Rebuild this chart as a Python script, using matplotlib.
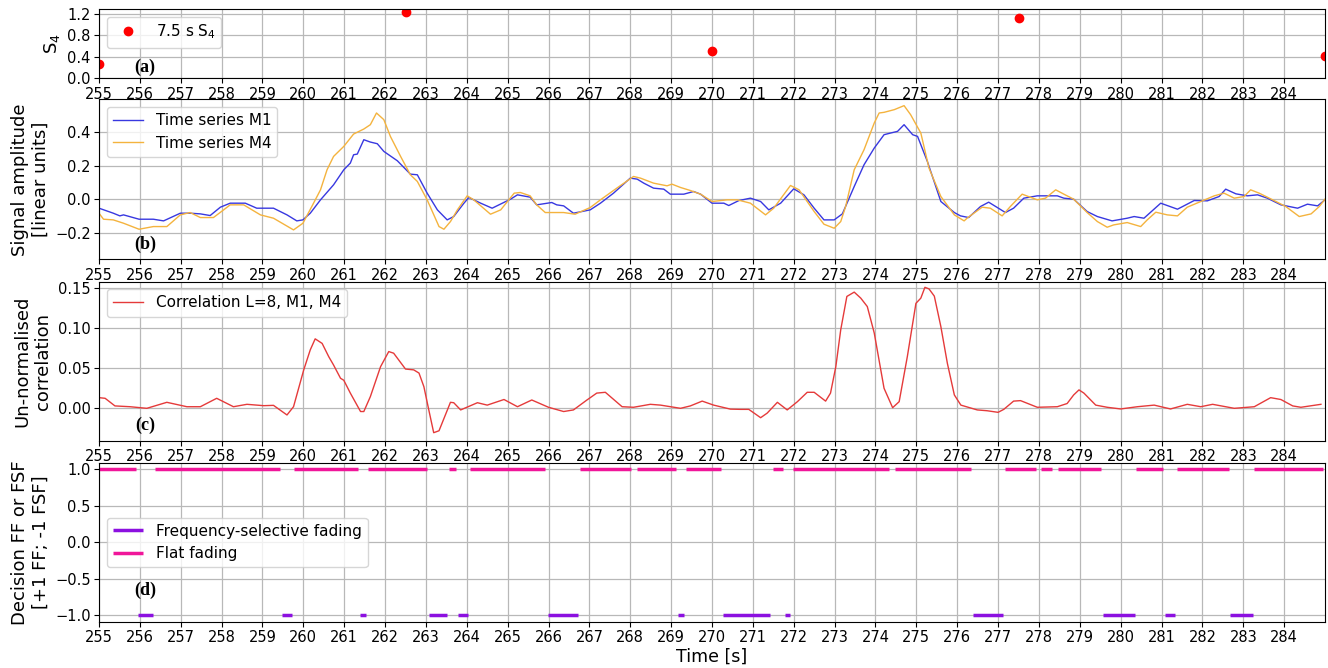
import numpy as np
import matplotlib
matplotlib.use("Agg")
import matplotlib.pyplot as plt

# ---------------- data ----------------
s4_time = [255.0, 262.5, 270.0, 277.5, 285.0]
s4_val = [0.26, 1.23, 0.51, 1.125, 0.42]

m1_time = [255.00, 255.35, 255.51, 255.60, 255.98, 256.33, 256.58, 256.99, 257.23, 257.48,
           257.72, 257.97, 258.21, 258.58, 258.86, 259.27, 259.60, 259.84, 259.99, 260.17,
           260.42, 260.74, 260.99, 261.15, 261.23, 261.32, 261.48, 261.64, 261.81, 261.97,
           262.30, 262.62, 262.79, 263.03, 263.28, 263.52, 263.68, 263.93, 264.05, 264.34,
           264.62, 265.07, 265.24, 265.55, 265.71, 266.08, 266.20, 266.37, 266.61, 267.02,
           267.27, 267.59, 268.00, 268.17, 268.33, 268.57, 268.82, 268.98, 269.31, 269.55,
           269.72, 270.00, 270.29, 270.41, 270.66, 270.94, 271.19, 271.39, 271.68, 272.00,
           272.25, 272.50, 272.74, 272.99, 273.19, 273.48, 273.72, 273.97, 274.21, 274.37,
           274.54, 274.70, 274.91, 275.03, 275.27, 275.60, 275.93, 276.08, 276.28, 276.57,
           276.77, 277.18, 277.38, 277.63, 277.96, 278.45, 278.61, 278.85, 279.18, 279.43,
           279.79, 280.16, 280.33, 280.57, 280.98, 281.39, 281.80, 282.12, 282.41, 282.57,
           282.82, 283.10, 283.35, 283.59, 283.92, 284.33, 284.57, 284.82, 285.00]
m1_val = [-0.054, -0.084, -0.100, -0.094, -0.120, -0.120, -0.130, -0.084, -0.084, -0.088,
          -0.098, -0.048, -0.024, -0.024, -0.054, -0.054, -0.094, -0.130, -0.124, -0.084,
          -0.004, 0.086, 0.176, 0.216, 0.266, 0.270, 0.356, 0.342, 0.332, 0.286,
          0.230, 0.150, 0.146, 0.036, -0.064, -0.124, -0.104, -0.024, 0.010, -0.024,
          -0.054, 0.000, 0.026, 0.012, -0.034, -0.020, -0.034, -0.040, -0.084, -0.064,
          -0.024, 0.036, 0.126, 0.120, 0.096, 0.066, 0.060, 0.030, 0.030, 0.046,
          0.030, -0.024, -0.024, -0.038, -0.008, 0.006, -0.014, -0.064, -0.024, 0.062,
          0.026, -0.054, -0.124, -0.124, -0.088, 0.076, 0.206, 0.306, 0.386, 0.396,
          0.406, 0.446, 0.386, 0.376, 0.226, -0.014, -0.080, -0.100, -0.110, -0.044,
          -0.018, -0.080, -0.054, 0.006, 0.020, 0.020, 0.006, 0.000, -0.074, -0.104,
          -0.130, -0.114, -0.104, -0.114, -0.024, -0.060, -0.008, -0.010, 0.016, 0.060,
          0.032, 0.020, 0.026, 0.006, -0.034, -0.054, -0.030, -0.040, -0.004]

m4_time = [255.00, 255.11, 255.35, 255.60, 255.98, 256.33, 256.66, 256.99, 257.23, 257.48,
           257.80, 258.05, 258.21, 258.54, 258.95, 259.27, 259.76, 259.99, 260.25, 260.42,
           260.58, 260.74, 260.99, 261.23, 261.48, 261.64, 261.79, 261.97, 262.13, 262.38,
           262.62, 262.79, 263.03, 263.32, 263.44, 263.60, 263.77, 264.01, 264.17, 264.58,
           264.83, 265.16, 265.31, 265.55, 265.71, 265.92, 266.37, 266.65, 267.02, 267.27,
           267.67, 268.08, 268.25, 268.57, 268.90, 269.02, 269.23, 269.47, 269.72, 270.00,
           270.37, 270.62, 270.94, 271.31, 271.51, 271.92, 272.13, 272.50, 272.74, 272.99,
           273.15, 273.27, 273.48, 273.72, 273.97, 274.09, 274.21, 274.46, 274.70, 274.86,
           275.11, 275.31, 275.60, 275.93, 276.17, 276.24, 276.61, 276.81, 277.10, 277.30,
           277.59, 277.96, 278.16, 278.41, 278.61, 278.85, 279.18, 279.43, 279.67, 279.83,
           280.16, 280.49, 280.65, 280.86, 281.14, 281.39, 281.63, 281.96, 282.29, 282.53,
           282.78, 283.02, 283.18, 283.39, 283.67, 284.04, 284.37, 284.66, 284.86, 285.00]
m4_val = [-0.084, -0.120, -0.124, -0.144, -0.180, -0.164, -0.164, -0.094, -0.080, -0.110,
          -0.110, -0.064, -0.034, -0.034, -0.094, -0.114, -0.184, -0.144, -0.024, 0.056,
          0.176, 0.256, 0.316, 0.390, 0.420, 0.446, 0.516, 0.476, 0.376, 0.256,
          0.146, 0.106, -0.004, -0.164, -0.180, -0.134, -0.064, 0.020, -0.004, -0.090,
          -0.064, 0.036, 0.040, 0.020, -0.034, -0.080, -0.080, -0.090, -0.050, -0.004,
          0.066, 0.136, 0.126, 0.096, 0.080, 0.090, 0.070, 0.052, 0.030, -0.014,
          -0.004, -0.004, -0.024, -0.094, -0.054, 0.082, 0.056, -0.074, -0.150, -0.174,
          -0.134, -0.044, 0.176, 0.296, 0.456, 0.516, 0.520, 0.536, 0.560, 0.506,
          0.396, 0.186, 0.016, -0.094, -0.130, -0.114, -0.048, -0.054, -0.100, -0.044,
          0.030, -0.004, 0.006, 0.056, 0.030, 0.000, -0.080, -0.134, -0.168, -0.154,
          -0.140, -0.164, -0.124, -0.078, -0.094, -0.100, -0.048, -0.014, 0.020, 0.036,
          0.006, 0.016, 0.056, 0.036, 0.002, -0.044, -0.104, -0.088, -0.044, 0.000]

corr_time = [255.00, 255.15, 255.39, 255.76, 256.17, 256.66, 257.15, 257.48, 257.88, 258.29,
             258.62, 259.03, 259.27, 259.60, 259.76, 260.01, 260.17, 260.29, 260.46, 260.62,
             260.74, 260.91, 260.99, 261.15, 261.40, 261.48, 261.64, 261.89, 262.09, 262.21,
             262.50, 262.70, 262.83, 262.95, 263.07, 263.19, 263.32, 263.60, 263.68, 263.85,
             264.26, 264.50, 264.91, 265.24, 265.59, 266.00, 266.37, 266.61, 266.94, 267.18,
             267.39, 267.80, 268.08, 268.49, 268.74, 269.23, 269.47, 269.76, 270.04, 270.45,
             270.70, 270.90, 271.19, 271.35, 271.60, 271.84, 272.09, 272.33, 272.50, 272.78,
             272.90, 273.03, 273.15, 273.30, 273.48, 273.64, 273.80, 273.97, 274.21, 274.42,
             274.58, 274.78, 274.99, 275.11, 275.21, 275.31, 275.44, 275.60, 275.76, 275.93,
             276.09, 276.49, 276.73, 277.00, 277.14, 277.38, 277.55, 277.96, 278.45, 278.69,
             278.85, 278.98, 279.10, 279.39, 279.67, 280.00, 280.41, 280.82, 281.22, 281.63,
             281.96, 282.25, 282.78, 283.27, 283.67, 283.92, 284.21, 284.41, 284.90]
corr_val = [0.0133, 0.0125, 0.0030, 0.0020, 0.0000, 0.0075, 0.0020, 0.0020, 0.0125, 0.0020,
            0.0050, 0.0033, 0.0037, -0.0083, 0.0020, 0.0480, 0.0730, 0.0867, 0.0810, 0.0646,
            0.0540, 0.0375, 0.0350, 0.0190, -0.0040, -0.0040, 0.0146, 0.0520, 0.0708, 0.0688,
            0.0490, 0.0480, 0.0440, 0.0270, -0.0020, -0.0304, -0.0280, 0.0075, 0.0070, -0.0020,
            0.0070, 0.0040, 0.0110, 0.0020, 0.0104, 0.0013, -0.0040, -0.0020, 0.0104, 0.0190,
            0.0200, 0.0020, 0.0013, 0.0050, 0.0040, 0.0000, 0.0030, 0.0090, 0.0040, -0.0010,
            -0.0013, -0.0013, -0.0117, -0.0060, 0.0075, -0.0020, 0.0083, 0.0200, 0.0200, 0.0090,
            0.0190, 0.0520, 0.0980, 0.1396, 0.1450, 0.1375, 0.1270, 0.0940, 0.0250, 0.0008,
            0.0083, 0.0646, 0.1310, 0.1375, 0.1510, 0.1490, 0.1400, 0.1020, 0.0560, 0.0167,
            0.0040, -0.0020, -0.0030, -0.0050, -0.0013, 0.0090, 0.0096, 0.0013, 0.0020, 0.0060,
            0.0167, 0.0230, 0.0190, 0.0040, 0.0013, -0.0008, 0.0020, 0.0040, -0.0008, 0.0050,
            0.0020, 0.0050, 0.0000, 0.0020, 0.0133, 0.0110, 0.0030, 0.0013, 0.0050]

ff_start = [255.00, 256.37, 259.78, 261.58, 263.56, 264.09, 266.76, 268.17, 269.37, 271.49,
            271.98, 274.48, 277.18, 278.06, 278.47, 280.38, 281.39, 283.27]
ff_end = [255.91, 259.42, 261.33, 263.03, 263.73, 265.92, 268.03, 269.13, 270.23, 271.74,
          274.33, 276.34, 277.93, 278.33, 279.53, 281.04, 282.64, 284.96]
fsf_start = [255.96, 259.48, 261.38, 263.07, 263.79, 265.98, 269.18, 270.27, 271.78,
             276.38, 279.57, 281.08, 282.68]
fsf_end = [256.32, 259.72, 261.53, 263.52, 264.03, 266.71, 269.31, 271.42, 271.92,
           277.11, 280.34, 281.34, 283.23]

x_ticks = list(range(255, 285))
panel_labels = ["(a)", "(b)", "(c)", "(d)"]

# ---------------- figure ----------------
fig = plt.figure(figsize=(13.28, 6.68), dpi=100)
W, H = 1328.0, 668.0
left = 99 / W
width = 1226 / W
boxes = [(9, 78.3), (99.3, 259.3), (281.7, 440.7), (463.3, 621.7)]
axes = []
for top, bot in boxes:
    ax = fig.add_axes([left, 1 - bot / H, width, (bot - top) / H])
    axes.append(ax)

grid_kw = dict(color="#b8b8b8", linewidth=0.9)
leg_kw = dict(fontsize=11, framealpha=0.8, edgecolor="#cccccc", fancybox=True)

for ax in axes:
    ax.set_xlim(255, 285)
    ax.set_xticks(x_ticks)
    ax.tick_params(labelsize=10.5, direction="out", length=3.5, pad=2.5)
    ax.grid(True, **grid_kw)
    ax.set_axisbelow(True)

# (a)
ax = axes[0]
ax.plot(s4_time, s4_val, "o", color="red", markersize=6, label="7.5 s S$_4$")
ax.set_ylim(0, 1.29)
ax.set_yticks([0.0, 0.4, 0.8, 1.2])
ax.set_yticklabels(["0.0", "0.4", "0.8", "1.2"])
ax.set_ylabel("S$_4$", fontsize=13)
ax.legend(loc="upper left", **leg_kw)

# (b)
ax = axes[1]
ax.plot(m1_time, m1_val, color="#3838e0", linewidth=1.0, label="Time series M1")
ax.plot(m4_time, m4_val, color="#f4b33e", linewidth=1.0, label="Time series M4")
ax.set_ylim(-0.36, 0.598)
ax.set_yticks([-0.2, 0.0, 0.2, 0.4])
ax.set_yticklabels(["\u22120.2", "0.0", "0.2", "0.4"])
ax.set_ylabel("Signal amplitude\n[linear units]", fontsize=13)
ax.legend(loc="upper left", **leg_kw)

# (c)
ax = axes[2]
ax.plot(corr_time, corr_val, color="#e53a3a", linewidth=1.0, label="Correlation L=8, M1, M4")
ax.set_ylim(-0.0404, 0.158)
ax.set_yticks([0.0, 0.05, 0.10, 0.15])
ax.set_yticklabels(["0.00", "0.05", "0.10", "0.15"])
ax.set_ylabel("Un-normalised\ncorrelation", fontsize=13)
ax.legend(loc="upper left", **leg_kw)

# (d)
ax = axes[3]
ax.hlines([-1.0] * len(fsf_start), fsf_start, fsf_end, colors="#8c10e0", linewidth=2.5,
          label="Frequency-selective fading")
ax.hlines([1.0] * len(ff_start), ff_start, ff_end, colors="#f0169a", linewidth=2.5,
          label="Flat fading")
ax.set_ylim(-1.088, 1.082)
ax.set_yticks([-1.0, -0.5, 0.0, 0.5, 1.0])
ax.set_yticklabels(["\u22121.0", "\u22120.5", "0.0", "0.5", "1.0"])
ax.set_ylabel("Decision FF or FSF\n[+1 FF; -1 FSF]", fontsize=13)
ax.set_xlabel("Time [s]", fontsize=12.5, labelpad=2)
ax.legend(loc="center left", **leg_kw)

# panel labels
label_y = [0.163, 0.096, 0.099, 0.20]
for ax, lab, yy in zip(axes, panel_labels, label_y):
    ax.text(0.0375, yy, lab, transform=ax.transAxes, ha="center", va="center",
            fontsize=13, fontweight="bold", family="Liberation Serif")

fig.savefig("out.png", dpi=100)
